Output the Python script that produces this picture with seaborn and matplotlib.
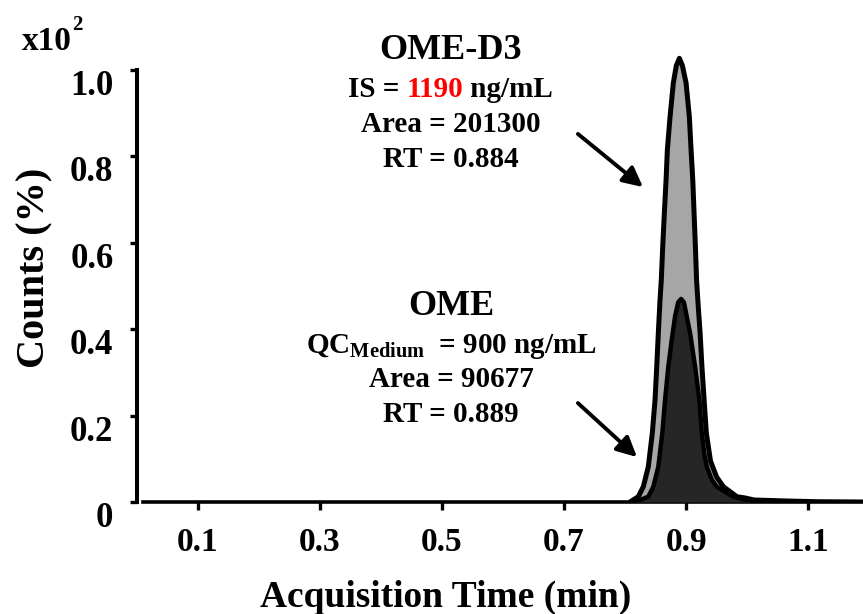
import numpy as np
import pandas as pd
import matplotlib
matplotlib.use("Agg")
import matplotlib.pyplot as plt
import seaborn as sns

# === Data (time in min, counts x10^2 %) ===
is_time = [0.808, 0.8217, 0.8299, 0.8381, 0.8447, 0.8491, 0.8519, 0.8545, 0.8573,
           0.8594, 0.8617, 0.8644, 0.8672, 0.8693, 0.8737, 0.8791, 0.8840, 0.8890,
           0.8940, 0.9000, 0.9054, 0.9082, 0.9110, 0.9131, 0.9153, 0.9172, 0.9196,
           0.9230, 0.9260, 0.9296, 0.9332, 0.9400, 0.9500, 0.9612, 0.9833, 0.9969,
           1.0116, 1.0658, 1.115, 1.19]
is_counts = [0.0, 0.0123, 0.0354, 0.0817, 0.160, 0.236, 0.313, 0.391, 0.468,
             0.514, 0.591, 0.669, 0.745, 0.815, 0.891, 0.970, 1.010, 1.027,
             1.010, 0.970, 0.891, 0.815, 0.745, 0.669, 0.591, 0.514, 0.460, 0.391,
             0.313, 0.236, 0.160, 0.095, 0.058, 0.0354, 0.0123, 0.0093,
             0.0046, 0.0023, 0.0007, 0.0]

ome_time = [0.8163, 0.8381, 0.8463, 0.8545, 0.8611, 0.8655, 0.8709, 0.8760, 0.8820,
            0.8870, 0.8918, 0.8965, 0.9010, 0.9066, 0.9148, 0.9218, 0.9258, 0.9300,
            0.9340, 0.9420, 0.9504, 0.9772, 0.9969, 1.005]
ome_counts = [0.0, 0.0123, 0.0354, 0.0817, 0.160, 0.236, 0.313, 0.370, 0.430,
              0.462, 0.470, 0.462, 0.430, 0.391, 0.313, 0.236, 0.160, 0.110,
              0.0817, 0.052, 0.0354, 0.0123, 0.005, 0.0]

x_ticks = [0.1, 0.3, 0.5, 0.7, 0.9, 1.1]
y_ticks = [0, 0.2, 0.4, 0.6, 0.8, 1.0]
y_ticklabels = ['0', '0.2', '0.4', '0.6', '0.8', '1.0']

is_lines = ['Area = 201300', 'RT = 0.884']
ome_lines = ['Area = 90677', 'RT = 0.889']

df_is = pd.DataFrame({'time': is_time, 'counts': is_counts})
df_ome = pd.DataFrame({'time': ome_time, 'counts': ome_counts})

# === Style ===
sns.set_style('white')
plt.rcParams['font.family'] = ['Liberation Serif', 'DejaVu Serif']
plt.rcParams['font.weight'] = 'bold'
plt.rcParams['text.color'] = 'black'
plt.rcParams['axes.labelcolor'] = 'black'
plt.rcParams['axes.edgecolor'] = 'black'
plt.rcParams['xtick.color'] = 'black'
plt.rcParams['ytick.color'] = 'black'
plt.rcParams['mathtext.fontset'] = 'custom'
plt.rcParams['mathtext.rm'] = 'Liberation Serif:bold'
plt.rcParams['mathtext.bf'] = 'Liberation Serif:bold'
plt.rcParams['mathtext.it'] = 'Liberation Serif:bold:italic'

W, H = 863, 614
fig = plt.figure(figsize=(W / 100, H / 100), dpi=100)
ax = fig.add_axes([137 / W, 1 - 502 / H, 726 / W, (502 - 52.7) / H])

# === Traces ===
ax.fill_between(df_is['time'], df_is['counts'], color='#a6a6a6', lw=0, zorder=2)
sns.lineplot(data=df_is, x='time', y='counts', ax=ax, color='black', lw=3.6,
             estimator=None, zorder=3)
ax.fill_between(df_ome['time'], df_ome['counts'], color='#262626', lw=0, zorder=4)
sns.lineplot(data=df_ome, x='time', y='counts', ax=ax, color='black', lw=3.2,
             estimator=None, zorder=5)

ax.set_xlim(0, 1.19)
ax.set_ylim(0, 1.04)

# === Axes ===
for s in ['top', 'right']:
    ax.spines[s].set_visible(False)
ax.spines['left'].set_linewidth(2.9)
ax.spines['bottom'].set_linewidth(2.6)
ax.spines['left'].set_bounds(0, 1.0)
ax.spines['bottom'].set_bounds(0.01, 1.19)

ax.set_xticks(x_ticks)
ax.set_xticklabels([f'{t:.1f}' for t in x_ticks])
ax.set_yticks(y_ticks)
ax.set_yticklabels(y_ticklabels)
ax.tick_params(axis='x', direction='out', length=6, width=2.4, pad=12,
               labelsize=24, bottom=True)
ax.tick_params(axis='y', direction='out', length=5, width=2.4, pad=12,
               labelsize=25, left=True)
plt.setp(ax.get_yticklabels(), va='top')
for lab in ax.get_xticklabels() + ax.get_yticklabels():
    lab.set_fontweight('bold')

ax.set_xlabel('Acquisition Time (min)', fontsize=27, fontweight='bold', va='center')
ax.xaxis.set_label_coords((446 - 137) / 726, (502 - 597) / (502 - 52.7))
ax.set_ylabel('Counts (%)', fontsize=29, fontweight='bold', va='center')
ax.yaxis.set_label_coords((35 - 137) / 726, (502 - 268) / (502 - 52.7))

# scale marker
fig.text(22 / W, 1 - 50 / H, 'x10', fontsize=24, fontweight='bold', va='baseline')
fig.text(72 / W, 1 - 30 / H, '2', fontsize=15, fontweight='bold', va='baseline')

# === Annotations ===
cx = 451 / W
fig.text(cx, 1 - 59 / H, 'OME-D3', fontsize=26, fontweight='bold', ha='center', va='baseline')
t1 = fig.text(348 / W, 1 - 97 / H, 'IS = ', fontsize=21, fontweight='bold', va='baseline')
t2 = ax.annotate('1190', xy=(1, 0), xycoords=t1, fontsize=21, fontweight='bold',
                 color='#ff0000', va='bottom')
ax.annotate(' ng/mL', xy=(1, 0), xycoords=t2, fontsize=21, fontweight='bold', va='bottom')
for txt, yy in zip(is_lines, [132, 167]):
    fig.text(cx, 1 - yy / H, txt, fontsize=21, fontweight='bold', ha='center', va='baseline')

fig.text(cx, 1 - 315 / H, 'OME', fontsize=26, fontweight='bold', ha='center', va='baseline')
fig.text(cx, 1 - 353 / H, r'QC$_{\mathrm{Medium}}$  = 900 ng/mL', fontsize=21,
         fontweight='bold', ha='center', va='baseline')
for txt, yy in zip(ome_lines, [387, 422]):
    fig.text(cx, 1 - yy / H, txt, fontsize=21, fontweight='bold', ha='center', va='baseline')

arrow_tails = [(0.7227, 0.852), (0.7227, 0.229)]
arrow_heads = [(0.8294, 0.729), (0.8195, 0.104)]
for tail, head in zip(arrow_tails, arrow_heads):
    ax.annotate('', xy=head, xytext=tail,
                arrowprops=dict(arrowstyle='-|>', color='black', lw=2.8,
                                mutation_scale=30, shrinkA=0, shrinkB=0))

fig.savefig('out.png', dpi=100)
